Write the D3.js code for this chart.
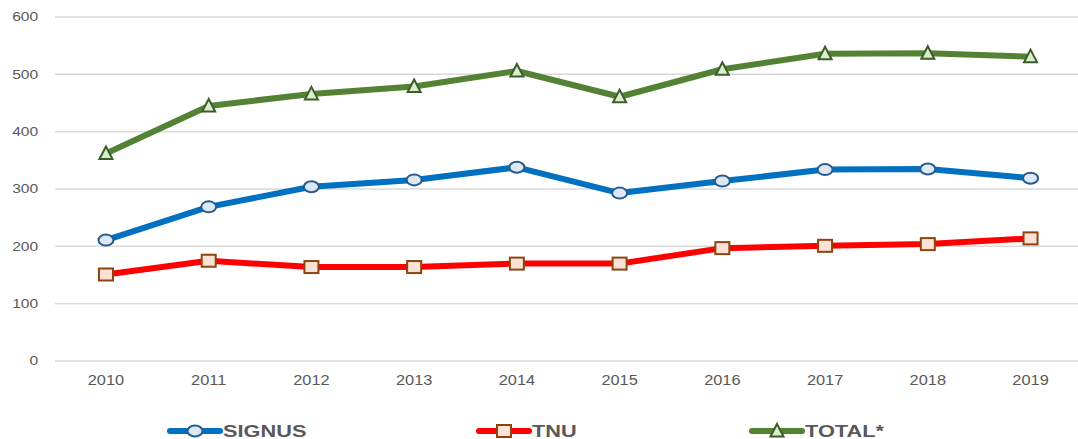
<!DOCTYPE html>
<html>
<head>
<meta charset="utf-8">
<script src="https://cdn.jsdelivr.net/npm/d3@7"></script>
<style>
  body { margin: 0; background: #fff; }
  svg { display: block; font-family: "Liberation Sans", Arial, sans-serif; }
</style>
</head>
<body>
<svg id="chart" width="1078" height="439"></svg>
<script>
var years = ["2010","2011","2012","2013","2014","2015","2016","2017","2018","2019"];
var signus = [210, 268, 303, 315, 337, 292, 313, 333, 334, 318];
var tnu    = [150, 174, 163, 163, 169, 169, 196, 200, 203, 213];
var total  = [361, 444, 465, 478, 505, 460, 508, 535, 536, 530];
var yTicks = [0, 100, 200, 300, 400, 500, 600];

var series = [
  {name: "TOTAL*", values: total, line: "#548235", fill: "#dcebd2", stroke: "#3b5e26", shape: "triangle", lx: 752},
  {name: "TNU", values: tnu, line: "#ff0000", fill: "#fbe2d5", stroke: "#8a4512", shape: "square", lx: 479},
  {name: "SIGNUS", values: signus, line: "#0070c0", fill: "#dce8f5", stroke: "#2a5a8a", shape: "circle", lx: 170}
];

var svg = d3.select("#chart");
var left = 55, right = 1078;

var x = d3.scaleBand()
    .domain(years)
    .range([54.6, 1081.9]);

var y = d3.scaleLinear()
    .domain([0, 600])
    .range([360.5, 16.5]);

// gridlines + y labels
var yAxis = svg.append("g")
    .attr("transform", "translate(" + left + ",0)")
    .call(d3.axisLeft(y).tickValues(yTicks).tickSize(-(right - left)).tickPadding(14));
yAxis.select(".domain").remove();
yAxis.selectAll("line").attr("stroke", "#d9d9d9").attr("stroke-width", 1.5);
yAxis.selectAll("text")
    .attr("fill", "#595959")
    .style("font-size", "13px")
    .attr("transform", "scale(1.2,1)");

// x labels
var xAxis = svg.append("g")
    .attr("transform", "translate(0,360.5)")
    .call(d3.axisBottom(x).tickSize(0).tickPadding(15));
xAxis.select(".domain").remove();
xAxis.selectAll("text")
    .attr("fill", "#595959")
    .style("font-size", "14px")
    .attr("transform", "scale(1.17,1)")
    .attr("x", function(){ return 0; });

function cx(i){ return x(years[i]) + x.bandwidth() / 2; }

function marker(sel, s){
  if(s.shape == "circle"){
    sel.append("ellipse").attr("rx", 7.5).attr("ry", 5.5);
  } else if(s.shape == "square"){
    sel.append("rect").attr("x", -7).attr("y", -6).attr("width", 14).attr("height", 12);
  } else {
    sel.append("path").attr("d", "M0,-7L6.5,5.5L-6.5,5.5Z");
  }
  sel.selectAll("ellipse,rect,path")
      .attr("fill", s.fill)
      .attr("stroke", s.stroke)
      .attr("stroke-width", 2);
}

var line = d3.line()
    .x(function(d,i){ return cx(i); })
    .y(function(d){ return y(d); });

series.forEach(function(s){
  svg.append("path")
      .datum(s.values)
      .attr("d", line)
      .attr("fill", "none")
      .attr("stroke", s.line)
      .attr("stroke-width", 6)
      .attr("stroke-linejoin", "round");

  svg.selectAll(null)
      .data(s.values)
    .enter().append("g")
      .attr("transform", function(d,i){ return "translate(" + cx(i) + "," + y(d) + ")"; })
      .each(function(){ marker(d3.select(this), s); });
});

// legend
var ly = 431;
series.forEach(function(s){
  var g = svg.append("g").attr("transform", "translate(" + s.lx + "," + ly + ")");
  g.append("line")
      .attr("x1", 0).attr("x2", 50)
      .attr("stroke", s.line)
      .attr("stroke-width", 6)
      .attr("stroke-linecap", "round");
  marker(g.append("g").attr("transform", "translate(25,0)"), s);
  g.append("text")
      .attr("transform", "translate(53,6) scale(1.28,1)")
      .attr("fill", "#595959")
      .style("font-size", "17px")
      .style("font-weight", "bold")
      .text(s.name);
});
</script>
</body>
</html>
